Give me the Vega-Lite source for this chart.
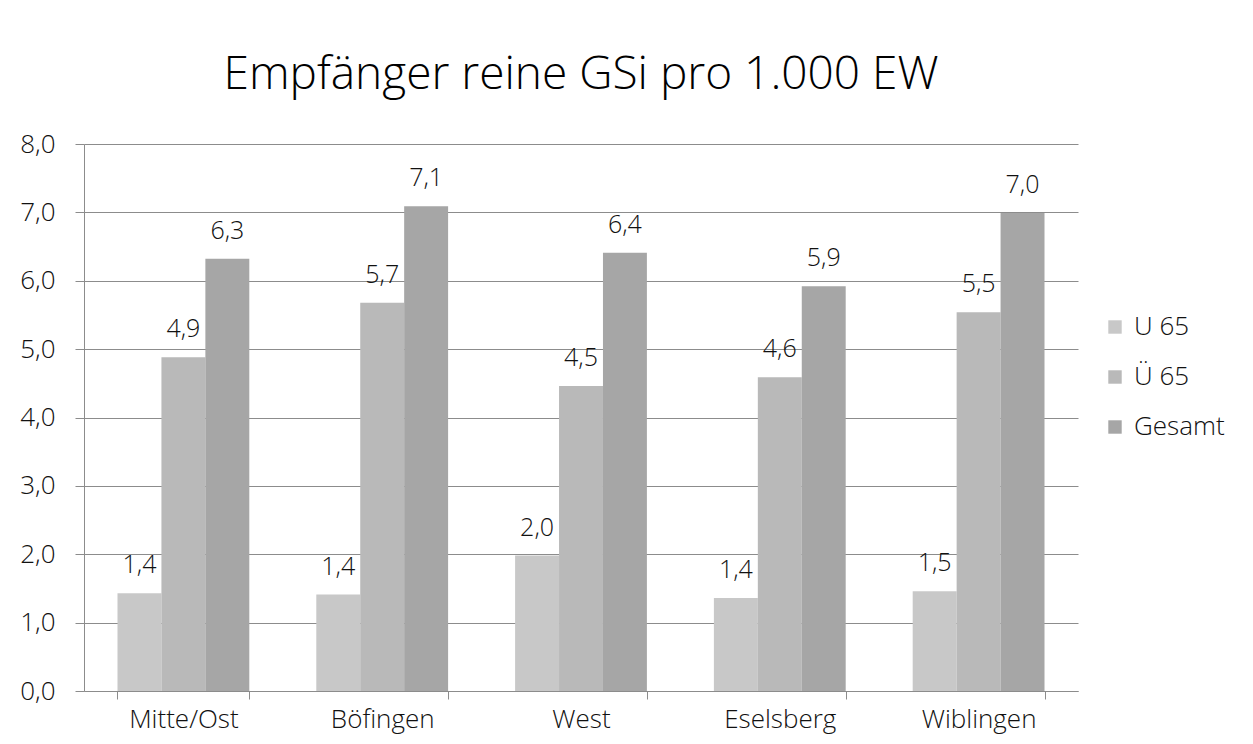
{
  "$schema": "https://vega.github.io/schema/vega-lite/v6.json",
  "width": 994,
  "height": 547,
  "autosize": {"type": "none"},
  "padding": {"left": 84, "top": 144, "right": 175, "bottom": 53},
  "background": "white",
  "config": {
    "locale": {"number": {"decimal": ",", "thousands": ".", "grouping": [3], "currency": ["", " €"]}},
    "font": "Open Sans",
    "view": {"stroke": null},
    "axis": {"labelFont": "Open Sans", "labelFontWeight": 300, "labelColor": "#111", "domainColor": "#8c8c8c", "tickColor": "#8c8c8c", "gridColor": "#8c8c8c", "domainWidth": 1, "gridWidth": 1}
  },
  "title": {
    "text": "Empfänger reine GSi pro 1.000 EW",
    "font": "Open Sans",
    "fontWeight": 300,
    "fontSize": 46,
    "color": "#000",
    "anchor": "middle",
    "baseline": "alphabetic",
    "offset": -4
  },
  "data": {
    "values": [
      {"Bezirk": "Mitte/Ost", "Gruppe": "U 65", "Wert": 1.43},
      {"Bezirk": "Mitte/Ost", "Gruppe": "Ü 65", "Wert": 4.88},
      {"Bezirk": "Mitte/Ost", "Gruppe": "Gesamt", "Wert": 6.32},
      {"Bezirk": "Böfingen", "Gruppe": "U 65", "Wert": 1.41},
      {"Bezirk": "Böfingen", "Gruppe": "Ü 65", "Wert": 5.68},
      {"Bezirk": "Böfingen", "Gruppe": "Gesamt", "Wert": 7.09},
      {"Bezirk": "West", "Gruppe": "U 65", "Wert": 1.98},
      {"Bezirk": "West", "Gruppe": "Ü 65", "Wert": 4.46},
      {"Bezirk": "West", "Gruppe": "Gesamt", "Wert": 6.41},
      {"Bezirk": "Eselsberg", "Gruppe": "U 65", "Wert": 1.36},
      {"Bezirk": "Eselsberg", "Gruppe": "Ü 65", "Wert": 4.59},
      {"Bezirk": "Eselsberg", "Gruppe": "Gesamt", "Wert": 5.92},
      {"Bezirk": "Wiblingen", "Gruppe": "U 65", "Wert": 1.46},
      {"Bezirk": "Wiblingen", "Gruppe": "Ü 65", "Wert": 5.54},
      {"Bezirk": "Wiblingen", "Gruppe": "Gesamt", "Wert": 6.99}
    ]
  },
  "encoding": {
    "x": {
      "field": "Bezirk",
      "type": "nominal",
      "sort": ["Mitte/Ost", "Böfingen", "West", "Eselsberg", "Wiblingen"],
      "scale": {"paddingInner": 0.337, "paddingOuter": 0.1685},
      "axis": {"title": null, "labelAngle": 0, "labelFontSize": 26, "labelPadding": 7, "tickBand": "extent", "tickSize": 8, "grid": false, "domainColor": "#8c8c8c"}
    },
    "xOffset": {
      "field": "Gruppe",
      "type": "nominal",
      "sort": ["U 65", "Ü 65", "Gesamt"],
      "scale": {"paddingInner": 0, "paddingOuter": 0}
    },
    "y": {
      "field": "Wert",
      "type": "quantitative",
      "scale": {"domain": [0, 8], "nice": false},
      "axis": {"title": null, "values": [0, 1, 2, 3, 4, 5, 6, 7, 8], "format": ".1f", "labelFontSize": 26, "labelPadding": 20, "tickSize": 9, "grid": true, "domain": true}
    }
  },
  "layer": [
    {
      "mark": {"type": "bar"},
      "encoding": {
        "color": {
          "field": "Gruppe",
          "type": "nominal",
          "sort": ["U 65", "Ü 65", "Gesamt"],
          "scale": {"domain": ["U 65", "Ü 65", "Gesamt"], "range": ["#c8c8c8", "#b9b9b9", "#a6a6a6"]},
          "legend": {
            "title": null,
            "orient": "none",
            "legendX": 1018,
            "legendY": 170,
            "symbolType": "square",
            "symbolSize": 180,
            "symbolStrokeWidth": 0,
            "labelFont": "Open Sans",
            "labelFontWeight": 300,
            "labelFontSize": 26,
            "labelColor": "#111",
            "rowPadding": 24,
            "labelOffset": 6,
            "padding": 0
          }
        }
      }
    },
    {
      "mark": {"type": "text", "baseline": "alphabetic", "dy": -20, "font": "Open Sans", "fontWeight": 300, "fontSize": 25, "color": "#111"},
      "encoding": {
        "text": {"field": "Wert", "type": "quantitative", "format": ".1f"}
      }
    }
  ]
}
